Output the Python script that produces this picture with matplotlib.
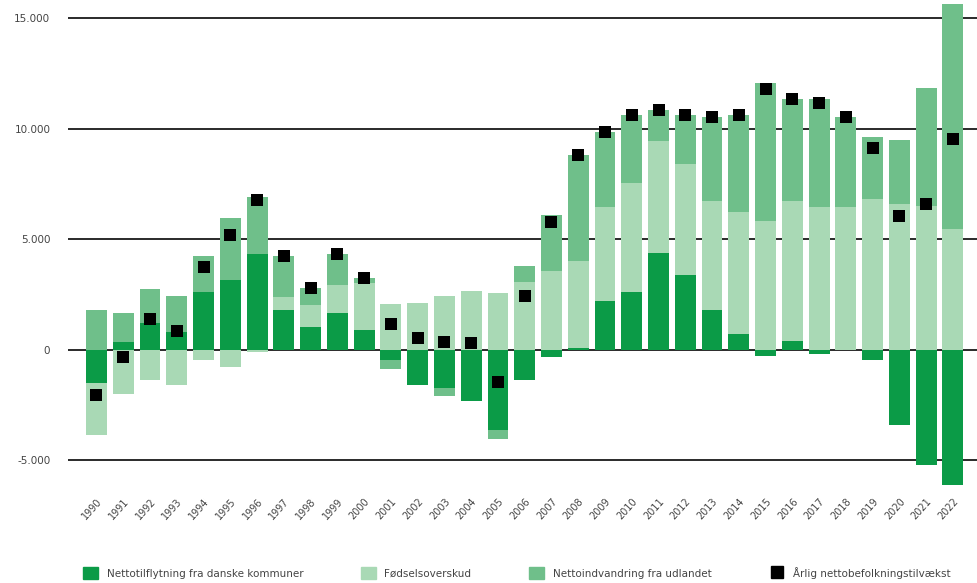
import numpy as np
import matplotlib.pyplot as plt
from matplotlib.patches import Patch
from matplotlib.lines import Line2D
from matplotlib.ticker import FuncFormatter

# Data in thousands (persons / 1000)
years = list(range(1990, 2023))

# Nettotilflytning fra danske kommuner
domestic = [-1.52, 0.33, 1.20, 0.80, 2.60, 3.15, 4.32, 1.82, 1.03, 1.67,
            0.90, -0.45, -1.59, -1.74, -2.33, -3.64, -1.36, -0.33, 0.08, 2.20,
            2.61, 4.39, 3.36, 1.82, 0.71, -0.27, 0.41, -0.18, 0.0, -0.48,
            -3.41, -5.23, -6.10]
# Fødselsoverskud
births = [-2.35, -2.00, -1.36, -1.59, -0.48, -0.76, -0.10, 0.56, 1.00, 1.26,
          2.10, 2.05, 2.12, 2.42, 2.65, 2.58, 3.05, 3.56, 3.94, 4.24,
          4.92, 5.03, 5.05, 4.92, 5.50, 5.83, 6.33, 6.44, 6.44, 6.82,
          6.59, 6.50, 5.45]
# Nettoindvandring fra udlandet
foreign = [1.82, 1.34, 1.53, 1.62, 1.64, 2.80, 2.57, 1.86, 0.76, 1.39,
           0.25, -0.42, 0.0, -0.33, 0.0, -0.38, 0.72, 2.53, 4.80, 3.41,
           3.07, 1.41, 2.23, 3.79, 4.43, 6.22, 4.62, 4.89, 4.09, 2.80,
           2.88, 5.32, 10.19]

labels = ["Nettotilflytning fra danske kommuner", "Fødselsoverskud",
          "Nettoindvandring fra udlandet", "Årlig nettobefolkningstilvækst"]
colors = ["#0b9b47", "#a9d9b5", "#6fbf8a"]

series = [np.array(domestic), np.array(births), np.array(foreign)]
net = series[0] + series[1] + series[2]

fig = plt.figure(figsize=(9.77, 5.83), dpi=100)
ax = fig.add_axes([0.07, 0.165, 0.93, 0.835])

x = np.arange(len(years))
pos_base = np.zeros(len(years))
neg_base = np.zeros(len(years))
for vals, col in zip(series, colors):
    pos = np.where(vals > 0, vals, 0)
    neg = np.where(vals < 0, vals, 0)
    ax.bar(x, pos, 0.78, bottom=pos_base, color=col, zorder=2)
    ax.bar(x, neg, 0.78, bottom=neg_base, color=col, zorder=2)
    pos_base += pos
    neg_base += neg

ax.scatter(x, net, marker="s", s=78, color="black", zorder=3, linewidths=0)

for yv in [-5, 0, 5, 10, 15]:
    ax.axhline(yv, color="#2a2a2a", lw=1.4, zorder=1)

ax.set_ylim(-6.2, 15.82)
ax.set_xlim(-1.05, 32.9)
ax.set_yticks([-5, 0, 5, 10, 15])
ax.yaxis.set_major_formatter(FuncFormatter(
    lambda v, p: "0" if v == 0 else f"{int(v * 1000):,}".replace(",", ".")))
ax.set_xticks(x)
ax.set_xticklabels([str(y) for y in years], rotation=48, ha="right",
                   rotation_mode="anchor", fontsize=7, color="#444444")
ax.tick_params(axis="y", length=0, pad=13, labelsize=7.5, labelcolor="#444444")
ax.tick_params(axis="x", length=0, pad=7)
for s in ax.spines.values():
    s.set_visible(False)

handles = [Patch(color=colors[0]), Patch(color=colors[1]), Patch(color=colors[2]),
           Line2D([], [], marker="s", color="black", linestyle="none", markersize=8)]
fig.legend(handles, labels, loc="lower left", bbox_to_anchor=(0.075, -0.01),
           ncol=4, frameon=False, fontsize=7.5, handlelength=1.5, handleheight=1.5,
           columnspacing=5.5, labelcolor="#444444")

fig.savefig("out.png", dpi=100)
